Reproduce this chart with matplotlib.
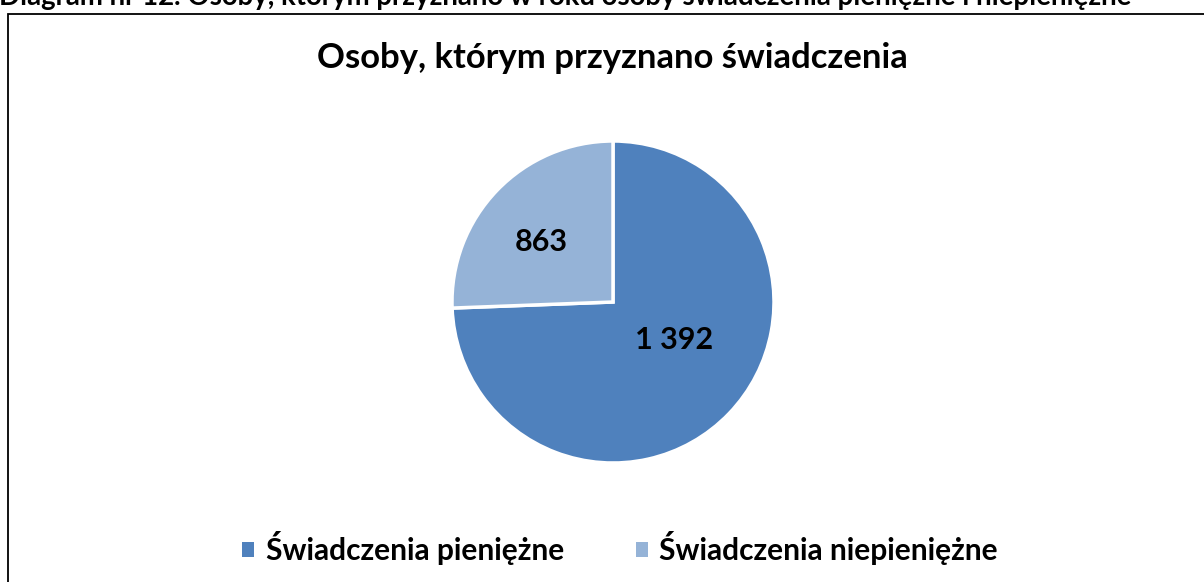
import matplotlib
matplotlib.use("Agg")
import matplotlib.pyplot as plt
from matplotlib.patches import Rectangle, Patch
import numpy as np

# ---- data ----
categories = ["Świadczenia pieniężne", "Świadczenia niepieniężne"]
value_labels = ["1 392", "863"]
# slice shares as drawn in the reference picture (percent of the full circle)
slice_shares = [74.4, 25.6]
colors = ["#4F81BD", "#95B3D7"]
chart_title = "Osoby, którym przyznano świadczenia"
caption = "Diagram nr 12. Osoby, którym przyznano w roku osoby świadczenia pieniężne i niepieniężne"

W, H = 1204, 582
fig = plt.figure(figsize=(W / 100, H / 100), dpi=100)
fig.patch.set_facecolor("white")
FONT = ["Lato", "DejaVu Sans"]

# caption cut off at the top
fig.text(-0.001, 1 - 5 / H, caption, fontsize=19.9, fontweight="bold", family=FONT,
         ha="left", va="baseline")

# chart frame (extends beyond the right/bottom edge)
fig.patches.append(Rectangle((8 / W, -0.05), 1.2, 1 - 14 / H + 0.05, transform=fig.transFigure,
                             fill=False, edgecolor="black", linewidth=1.3))

# title
fig.text(612 / W, 1 - 58 / H, chart_title, fontsize=24.9, fontweight="bold", family=FONT,
         ha="center", va="center")

# pie
cx, cy, r = 613, 302, 161
ax = fig.add_axes([(cx - r) / W, 1 - (cy + r) / H, 2 * r / W, 2 * r / H])
wedges, _ = ax.pie(slice_shares, colors=colors, startangle=90, counterclock=False,
                   wedgeprops=dict(edgecolor="white", linewidth=2.5), radius=1)
ax.set_xlim(-1, 1)
ax.set_ylim(-1, 1)
ax.set_aspect("equal")
ax.axis("off")

label_r = [0.45, 0.58]
label_shift = [12, 4]
for w, lab, lr, sh in zip(wedges, value_labels, label_r, label_shift):
    mid = np.deg2rad((w.theta1 + w.theta2) / 2 + sh)
    ax.text(lr * np.cos(mid), lr * np.sin(mid), lab, fontsize=22, fontweight="bold",
            family=FONT, ha="center", va="center")

handles = [Patch(facecolor=c, edgecolor="none") for c in colors]
fig.legend(handles, categories, loc="center", bbox_to_anchor=(620 / W, 1 - 548 / H),
           ncol=2, frameon=False, prop=dict(family=FONT, weight="bold", size=21.5),
           handlelength=0.4, handleheight=0.4, handletextpad=0.38, columnspacing=2.4)

fig.savefig("out.png", dpi=100)
